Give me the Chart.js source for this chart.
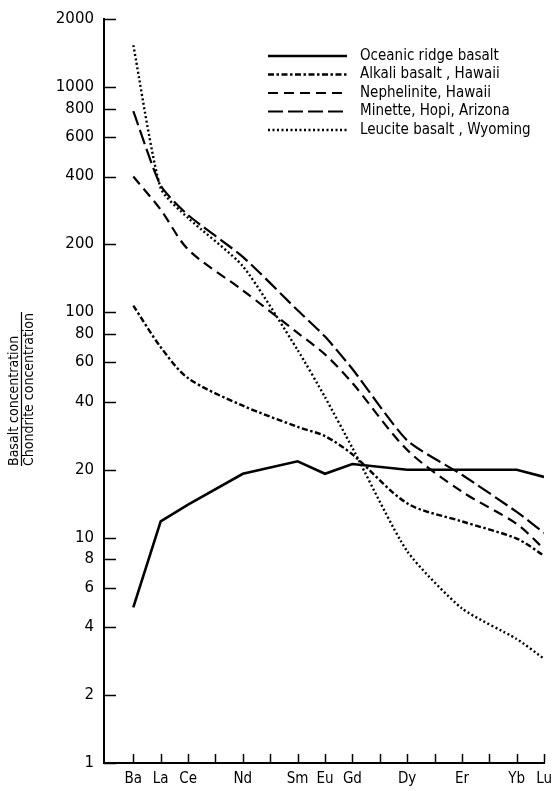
<!DOCTYPE html>
<html>
<head>
<meta charset="utf-8">
<script src="https://cdn.jsdelivr.net/npm/chart.js@4.4.1/dist/chart.umd.min.js"></script>
<style>
    html, body { margin: 0; padding: 0; background: #fff; }
    #wrap { width: 559px; height: 791px; position: relative; }
</style>
</head>
<body>
<div id="wrap"><canvas id="reeChart"></canvas></div>
<script>
// every element slot on the x axis (one tick each); only some are labelled
const tickElements = ['Ba', 'La', 'Ce', 'Pr', 'Nd', 'Pm', 'Sm', 'Eu', 'Gd', 'Tb', 'Dy', 'Ho', 'Er', 'Tm', 'Yb', 'Lu'];
const elements = ['Ba', 'La', 'Ce', 'Nd', 'Sm', 'Eu', 'Gd', 'Dy', 'Er', 'Yb', 'Lu'];
const yTicks = [1, 2, 4, 6, 8, 10, 20, 40, 60, 80, 100, 200, 400, 600, 800, 1000, 2000];

const oceanicRidge = [4.9, 11.8, 14, 19.2, 21.8, 19.2, 21.2, 20, 20, 20, 18.6];
const alkaliHawaii = [107, 70, 51, 38.5, 31, 28.2, 23.4, 14.2, 11.8, 9.9, 8.3];
const nephelinite = [400, 285, 190, 125, 81, 65, 48.5, 24.5, 16, 11.5, 8.9];
const minette = [780, 365, 270, 176, 102, 78, 56, 27, 19, 13, 10.5];
const leucite = [1530, 355, 262, 160, 68, 42, 25, 8.7, 4.85, 3.55, 2.9];

const FONT = "'DejaVu Sans Condensed', 'Liberation Sans Narrow', 'DejaVu Sans', sans-serif";

function toPoints(values) {
    return values.map((v, i) => ({ x: tickElements.indexOf(elements[i]), y: v }));
}

function makeSeries(label, values, dash, width, tension) {
    return {
        label: label,
        data: toPoints(values),
        borderColor: '#000',
        borderWidth: width,
        borderDash: dash,
        pointRadius: 0,
        fill: false,
        tension: tension,
    };
}

const datasets = [
    makeSeries('Oceanic ridge basalt', oceanicRidge, [], 2.6, 0),
    makeSeries('Alkali basalt , Hawaii', alkaliHawaii, [6, 2.5, 2.5, 2.5], 2.4, 0.3),
    makeSeries('Nephelinite, Hawaii', nephelinite, [10, 6], 2.2, 0.3),
    makeSeries('Minette, Hopi, Arizona', minette, [15, 5], 2.2, 0.2),
    makeSeries('Leucite basalt , Wyoming', leucite, [2, 2.5], 2.4, 0.2),
];

// inward tick marks, y-axis fraction title and the legend block
const decorations = {
    id: 'decorations',
    afterDraw(chart) {
        const ctx = chart.ctx;
        const xs = chart.scales.x;
        const ys = chart.scales.y;
        const area = chart.chartArea;
        ctx.save();
        ctx.strokeStyle = '#000';
        ctx.lineWidth = 1.5;
        yTicks.forEach(v => {
            const py = Math.round(ys.getPixelForValue(v)) + 0.5;
            ctx.beginPath();
            ctx.moveTo(area.left, py);
            ctx.lineTo(area.left + 12, py);
            ctx.stroke();
        });
        tickElements.forEach((el, i) => {
            const px = Math.round(xs.getPixelForValue(i)) + 0.5;
            ctx.beginPath();
            ctx.moveTo(px, area.bottom);
            ctx.lineTo(px, area.bottom - 9);
            ctx.stroke();
        });

        // y title as a fraction
        ctx.translate(0, 466);
        ctx.rotate(-Math.PI / 2);
        ctx.fillStyle = '#000';
        ctx.font = '14px ' + FONT;
        ctx.textAlign = 'left';
        ctx.textBaseline = 'middle';
        ctx.fillText('Basalt concentration', 0, 14);
        ctx.fillText('Chondrite concentration', 0, 29.5);
        ctx.lineWidth = 1.2;
        ctx.beginPath();
        ctx.moveTo(0, 21.5);
        ctx.lineTo(154, 21.5);
        ctx.stroke();
        ctx.restore();

        // legend
        ctx.save();
        ctx.font = '15px ' + FONT;
        ctx.textBaseline = 'middle';
        ctx.fillStyle = '#000';
        chart.data.datasets.forEach((ds, i) => {
            const y = 56 + i * 18.5;
            ctx.strokeStyle = '#000';
            ctx.lineWidth = ds.borderWidth;
            ctx.setLineDash(ds.borderDash);
            ctx.beginPath();
            ctx.moveTo(268, y);
            ctx.lineTo(347, y);
            ctx.stroke();
            ctx.setLineDash([]);
            ctx.fillText(ds.label, 360, y);
        });
        ctx.restore();
    }
};

const ctx = document.getElementById('reeChart').getContext('2d');
new Chart(ctx, {
    type: 'line',
    data: { datasets: datasets },
    plugins: [decorations],
    options: {
        responsive: true,
        maintainAspectRatio: false,
        animation: false,
        layout: { padding: { top: 14, right: 7, left: 0, bottom: 0 } },
        plugins: {
            legend: { display: false },
            tooltip: { enabled: false },
        },
        scales: {
            x: {
                type: 'linear',
                min: -1.07,
                max: tickElements.length - 1,
                afterFit: scale => { scale.height = 28; },
                afterBuildTicks: scale => {
                    scale.ticks = tickElements.map((el, i) => ({ value: i }));
                },
                grid: { display: false, drawTicks: false },
                border: { display: true, color: '#000', width: 2 },
                ticks: {
                    autoSkip: false,
                    maxRotation: 0,
                    padding: 7,
                    color: '#000',
                    font: { family: FONT, size: 15 },
                    callback: value => elements.includes(tickElements[value]) ? tickElements[value] : '',
                },
            },
            y: {
                type: 'logarithmic',
                min: 1,
                max: 2000,
                afterFit: scale => { scale.width = 104; },
                afterBuildTicks: scale => {
                    scale.ticks = yTicks.map(v => ({ value: v }));
                },
                grid: { display: false, drawTicks: false },
                border: { display: true, color: '#000', width: 2 },
                ticks: {
                    autoSkip: false,
                    padding: 10,
                    color: '#000',
                    font: { family: "'DejaVu Sans', sans-serif", size: 15 },
                    callback: value => String(value),
                },
            },
        },
    },
});
</script>
</body>
</html>
